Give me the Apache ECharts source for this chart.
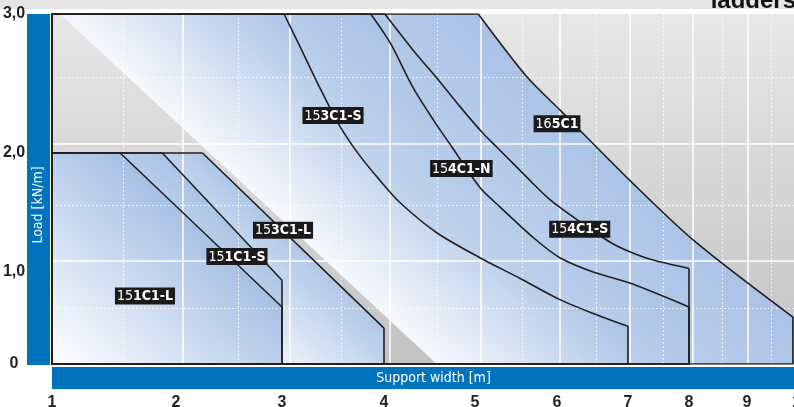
<!DOCTYPE html>
<html><head><meta charset="utf-8">
<script src="https://cdn.jsdelivr.net/npm/echarts@6/dist/echarts.min.js"></script>
<style>html,body{margin:0;padding:0;background:#fff;}#c{width:794px;height:407px;}</style>
</head><body><div id="c"></div>
<script>
// ---------------- data ----------------
const xTicks = [1, 2, 3, 4, 5, 6, 7, 8, 9, 10];
const yTicks = [0, 1, 2, 3];
const yTickLabels = ['0', '1,0', '2,0', '3,0'];
// load limit curves [support width m, load kN/m], from the top-left corner to the bottom-right end
const c151C1L = [[1, 2], [1.55, 2], [3, 0.62], [3, 0]];
const c151C1S = [[1, 2], [1.89, 2], [3, 0.91], [3, 0]];
const c153C1L = [[1, 2], [2.25, 2], [4, 0.39], [4, 0]];
const c153C1S = [[1, 3], [3.02, 3], [3.18, 2.76], [3.37, 2.47], [3.57, 2.19], [3.76, 1.98], [3.96, 1.77], [4.18, 1.58], [4.58, 1.33], [5.06, 1.12], [5.55, 0.93], [6.04, 0.70], [6.51, 0.55], [7, 0.41], [7, 0]];
const c154C1N = [[1, 3], [3.87, 3], [4.07, 2.79], [4.32, 2.47], [4.54, 2.24], [4.75, 2.04], [5.06, 1.71], [5.30, 1.55], [5.71, 1.29], [6.04, 1.12], [6.51, 1.00], [7.03, 0.88], [8, 0.62], [8, 0]];
const c154C1S = [[1, 3], [4.01, 3], [4.32, 2.74], [4.58, 2.54], [4.84, 2.33], [5.10, 2.14], [5.27, 2.04], [5.67, 1.77], [5.91, 1.61], [6.28, 1.44], [6.75, 1.25], [7.03, 1.17], [7.41, 1.10], [8, 1.03], [8, 0]];
const c165C1 = [[1, 3], [5.04, 3], [5.63, 2.55], [6.04, 2.31], [7.03, 1.77], [8.07, 1.27], [9.85, 0.51], [9.85, 0]];
const productNames = ['151C1-L', '151C1-S', '153C1-L', '153C1-S', '154C1-N', '154C1-S', '165C1'];
const productCurves = [c151C1L, c151C1S, c153C1L, c153C1S, c154C1N, c154C1S, c165C1];
const labelAt = [[1.75, 0.74], [2.575, 1.13], [3.01, 1.35], [3.5, 2.27], [4.85, 1.87], [6.32, 1.36], [6.0, 2.21]];
const shadowEdge = [[4.58, 0], [1.065, 3]];

// ---------------- scale (the printed axes are not linear) ----------------
const X_POS = [0, 124, 230, 332, 423, 505, 576, 637, 695, 749];
const Y_POS = [0, 92, 211, 350];
function piece(v, vals, pos) {
  for (let i = 0; i < vals.length - 1; i++) {
    if (v <= vals[i + 1] || i === vals.length - 2) {
      const t = (v - vals[i]) / (vals[i + 1] - vals[i]);
      return pos[i] + t * (pos[i + 1] - pos[i]);
    }
  }
}
const xPos = w => piece(w, xTicks, X_POS);
const yPos = l => piece(l, yTicks, Y_POS);
const toAxis = p => [xPos(p[0]), yPos(p[1])];

// decorative grid of the original print (axis units)
const X_SOLID = [131, 238, 338, 429, 508, 578, 641, 696];
const X_DOT = [71, 186, 289, 385, 470, 544, 611, 670, 719];
const Y_SOLID = [103, 220];
const Y_DOT = [56, 159, 287];

// ---------------- styles ----------------
const NARROW = "'Liberation Sans Narrow','DejaVu Sans Condensed',sans-serif";
const SANS = "'Liberation Sans',Arial,sans-serif";
const INK = '#231f20';
const BLUE = '#0073bd';
const GRAD_DIR = [0.68, -0.733];
const FILLS = {
  '151C1-L': ['#ffffff', '#a5c0e5'],
  '151C1-S': ['#cddcf0', '#a9c3e6'],
  '153C1-L': ['#eef3fa', '#adc6e8'],
  '153C1-S': ['#f6f8fc', '#a9c3e6'],
  '154C1-N': ['#d6e2f3', '#a9c3e6'],
  '154C1-S': ['#d6e2f3', '#aac4e7'],
  '165C1':   ['#d3e0f2', '#a8c2e6']
};

// fill regions: each product's band between its curve and the next smaller curve
const rev = a => a.slice().reverse();
const bands = [
  { name: '165C1', pts: c165C1.concat(rev(c154C1S)) },
  { name: '154C1-S', pts: c154C1S.concat(rev(c154C1N)) },
  { name: '154C1-N', pts: c154C1N.concat(rev(c153C1S)) },
  { name: '153C1-S', pts: c153C1S.slice(1).concat(shadowEdge) },
  { name: '153C1-L', pts: c153C1L.concat(rev(c151C1S)) },
  { name: '151C1-S', pts: c151C1S.concat(rev(c151C1L)) },
  { name: '151C1-L', pts: c151C1L.concat([[1, 0]]) }
];

const chart = echarts.init(document.getElementById('c'), null, { renderer: 'canvas' });

const lineBase = { type: 'line', z: 4, silent: true, symbol: 'none', animation: false };
const outlineSeries = [];
productCurves.forEach((c, i) => {
  const n = c.length;
  // straight edges: top-left corner, top edge, end drop, bottom and left edge
  outlineSeries.push(Object.assign({}, lineBase, {
    name: productNames[i],
    data: [c[n - 2], c[n - 1], [1, 0], c[0], c[1]].map(toAxis),
    lineStyle: { color: INK, width: 1.6, join: 'miter', opacity: 1 }
  }));
  // limit curve itself
  outlineSeries.push(Object.assign({}, lineBase, {
    name: productNames[i], smooth: n > 4 ? 0.3 : false,
    data: c.slice(1, n - 1).map(toAxis),
    lineStyle: { color: INK, width: 1.6, opacity: 1 }
  }));
});

const richA = { color: '#fff', fontSize: 14, fontFamily: NARROW, fontWeight: 'normal', lineHeight: 16 };
const richB = { color: '#fff', fontSize: 14, fontFamily: NARROW, fontWeight: 'bold', lineHeight: 16 };

const axisCommonX = {
  type: 'value', min: 0, max: 749, position: 'bottom', z: 3,
  axisLine: { show: false }
};
const axisCommonY = {
  type: 'value', min: 0, max: 350, position: 'left', z: 3,
  axisLine: { show: false }
};

chart.setOption({
  animation: false,
  backgroundColor: '#fff',
  grid: {
    left: 52, top: 14, width: 749, height: 350, show: true, borderWidth: 0,
    outerBoundsMode: 'none', containLabel: false,
    backgroundColor: new echarts.graphic.LinearGradient(0, 0, 0, 1, [
      { offset: 0, color: '#e7e7e7' }, { offset: 1, color: '#c3c3c3' }
    ])
  },
  graphic: [
    { type: 'rect', left: 0, top: 0, z: 0, shape: { width: 794, height: 9 }, style: { fill: '#e5e5e5' } },
    { type: 'rect', left: 27, top: 14, z: 0, shape: { width: 23, height: 351 }, style: { fill: BLUE } },
    { type: 'rect', left: 52, top: 367, z: 0, shape: { width: 760, height: 22 }, style: { fill: BLUE } },
    { type: 'text', x: 796, y: 1, z: 1, style: { text: 'ladders', align: 'right', verticalAlign: 'middle', font: "bold 24px 'Liberation Sans',Arial,sans-serif", fill: '#111' } }
  ],
  xAxis: [
    Object.assign({}, axisCommonX, {
      name: 'Support width [m]', nameLocation: 'middle', nameGap: 5, nameMoveOverlap: false,
      nameTextStyle: { color: '#fff', fontFamily: NARROW, fontSize: 14, lineHeight: 18, padding: [0, 0, 0, 14] },
      axisTick: { show: false, customValues: X_SOLID },
      splitLine: { show: true, lineStyle: { color: '#ffffff', width: 1.5 } },
      axisLabel: {
        customValues: xTicks.map(xPos), margin: 31, verticalAlign: 'top',
        color: INK, fontSize: 16, fontWeight: 'bold', fontFamily: SANS,
        formatter: v => { const i = X_POS.findIndex(p => Math.abs(p - v) < 1e-6); return i >= 0 ? String(xTicks[i]) : ''; }
      }
    }),
    Object.assign({}, axisCommonX, {
      axisTick: { show: false, customValues: X_DOT },
      axisLabel: { show: false },
      splitLine: { show: true, lineStyle: { color: 'rgba(255,255,255,0.95)', width: 1, type: [1.5, 2.5] } }
    })
  ],
  yAxis: [
    Object.assign({}, axisCommonY, {
      name: 'Load [kN/m]', nameLocation: 'middle', nameRotate: 90, nameGap: 5, nameMoveOverlap: false,
      nameTextStyle: { color: '#fff', fontFamily: NARROW, fontSize: 14, lineHeight: 17, padding: [0, 32, 0, 0] },
      axisTick: { show: false, customValues: Y_SOLID },
      splitLine: { show: true, lineStyle: { color: '#ffffff', width: 1.5 } },
      axisLabel: {
        customValues: yTicks.map(yPos), margin: 38, align: 'center', verticalAlign: 'middle',
        padding: [4, 0, 0, 0], color: INK, fontSize: 16, fontWeight: 'bold', fontFamily: SANS,
        formatter: v => { const i = Y_POS.findIndex(p => Math.abs(p - v) < 1e-6); return i >= 0 ? yTickLabels[i] : ''; }
      }
    }),
    Object.assign({}, axisCommonY, {
      axisTick: { show: false, customValues: Y_DOT },
      axisLabel: { show: false },
      splitLine: { show: true, lineStyle: { color: 'rgba(255,255,255,0.95)', width: 1, type: [1.5, 2.5] } }
    })
  ],
  series: [
    {
      type: 'custom', z: 1, silent: true, xAxisIndex: 0, yAxisIndex: 0,
      data: bands.map(() => [0, 0]),
      renderItem: (params, api) => {
        const b = bands[params.dataIndex];
        const pts = b.pts.map(p => api.coord(toAxis(p)));
        let pmin = Infinity, pmax = -Infinity, start = pts[0];
        pts.forEach(q => {
          const p = q[0] * GRAD_DIR[0] + q[1] * GRAD_DIR[1];
          if (p < pmin) { pmin = p; start = q; }
          if (p > pmax) pmax = p;
        });
        const d = pmax - pmin;
        const cols = FILLS[b.name];
        return {
          type: 'polygon', shape: { points: pts, smooth: 0 }, silent: true,
          style: {
            fill: new echarts.graphic.LinearGradient(start[0], start[1], start[0] + GRAD_DIR[0] * d, start[1] + GRAD_DIR[1] * d,
              [{ offset: 0, color: cols[0] }, { offset: 1, color: cols[1] }], true)
          }
        };
      }
    }
  ].concat(outlineSeries).concat([
    {
      type: 'scatter', z: 6, silent: true, symbolSize: 1,
      itemStyle: { color: 'rgba(0,0,0,0)', opacity: 1 },
      data: labelAt.map((p, i) => ({ value: toAxis(p), name: productNames[i] })),
      label: {
        show: true, position: 'inside', opacity: 1,
        backgroundColor: '#1c191a', padding: [1, 2, 0, 2],
        formatter: p => '{a|' + p.name.slice(0, 2) + '}{b|' + p.name.slice(2) + '}',
        rich: { a: richA, b: richB }
      }
    }
  ])
});
</script>
</body></html>
